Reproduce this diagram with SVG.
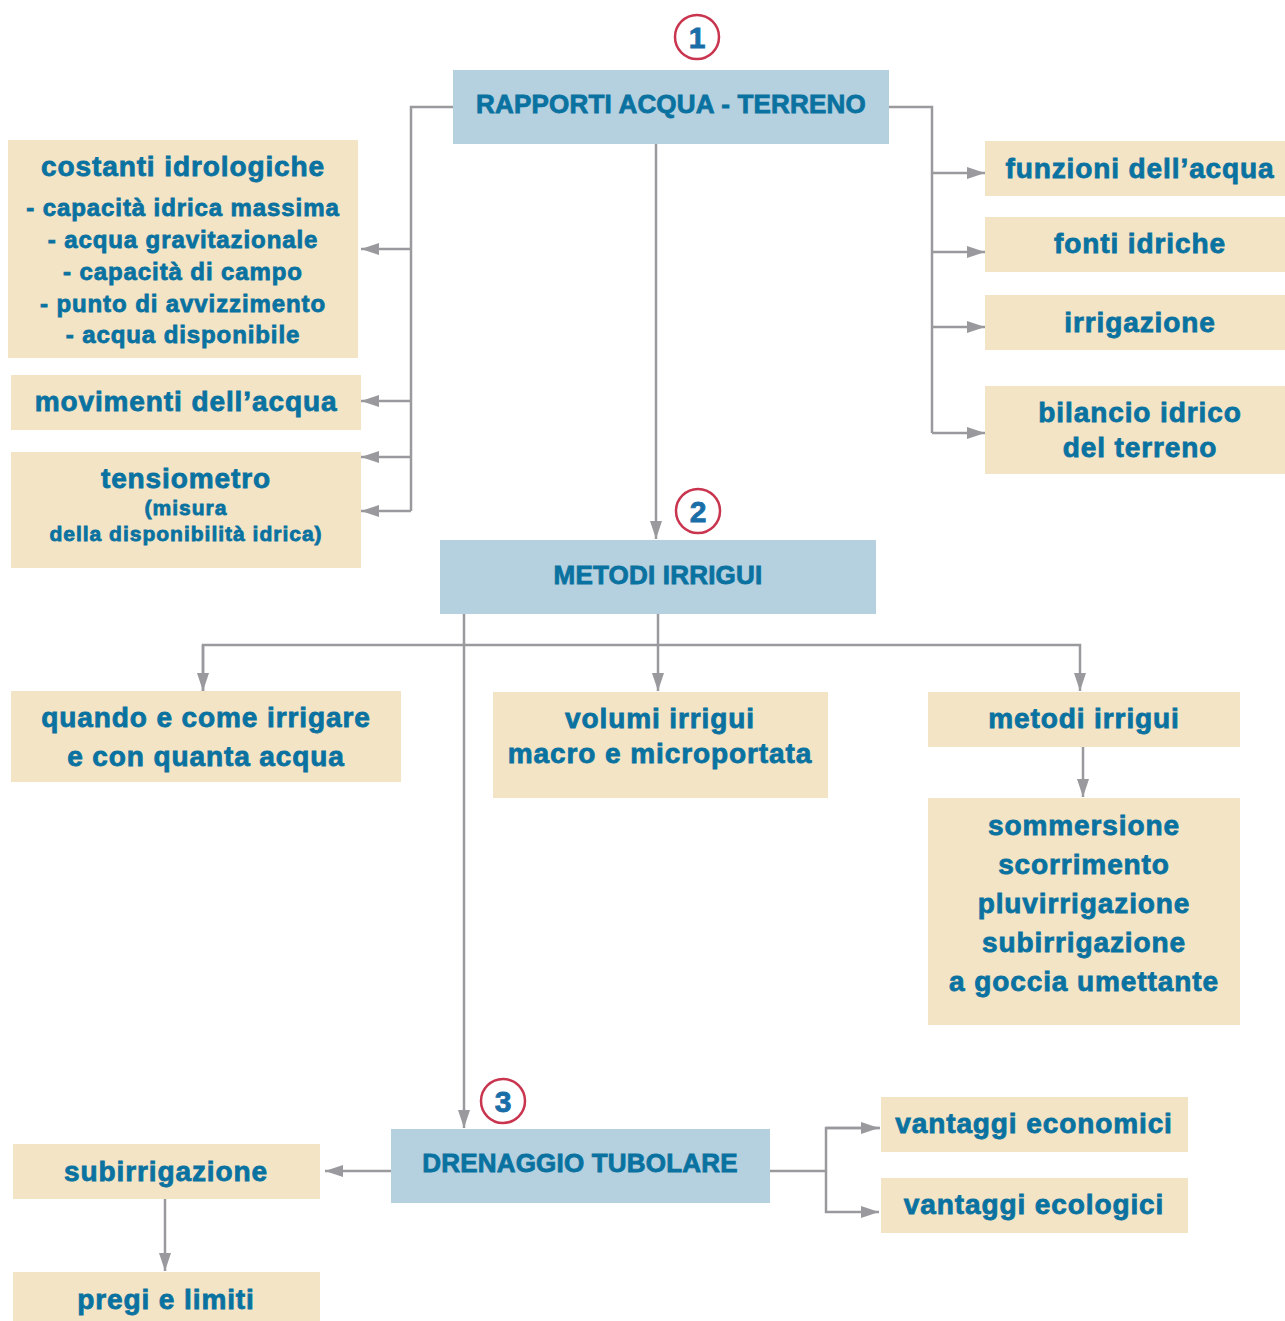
<svg xmlns="http://www.w3.org/2000/svg" width="1285" height="1321" viewBox="0 0 1285 1321">
<style>
.beige{fill:#f3e4c5}
.blue{fill:#b5d0de}
text{font-family:"Liberation Sans",Arial,sans-serif;font-weight:bold;fill:#0a72a0;stroke:#0a72a0;stroke-width:0.8;text-anchor:middle}
.t{font-size:28px;letter-spacing:0.9px}
.s{font-size:24px;letter-spacing:0.9px}
.x{font-size:21px;letter-spacing:1px}
.u{font-size:26px;letter-spacing:0.2px}
.num{font-size:30px;fill:#1a6ea8;stroke:#1a6ea8}
.circ{fill:#fff;stroke:#c9354f;stroke-width:2.5}
.ln{fill:none;stroke:#9a9a9e;stroke-width:2.5}
</style>
<defs>
<marker id="ah" viewBox="0 0 18 12" refX="18" refY="6" markerWidth="18" markerHeight="12" markerUnits="userSpaceOnUse" orient="auto">
<path d="M0,0 L18,6 L0,12 z" fill="#9a9a9e"/>
</marker>
</defs>
<g id="connectors">
<path class="ln" d="M453,107 H411 V511"/>
<path class="ln" d="M411,249 H361" marker-end="url(#ah)"/>
<path class="ln" d="M411,401 H361" marker-end="url(#ah)"/>
<path class="ln" d="M411,457 H361" marker-end="url(#ah)"/>
<path class="ln" d="M411,511 H361" marker-end="url(#ah)"/>
<path class="ln" d="M889,107 H932 V433"/>
<path class="ln" d="M932,173 H985" marker-end="url(#ah)"/>
<path class="ln" d="M932,252 H985" marker-end="url(#ah)"/>
<path class="ln" d="M932,327 H985" marker-end="url(#ah)"/>
<path class="ln" d="M932,433 H985" marker-end="url(#ah)"/>
<path class="ln" d="M656,144 V539" marker-end="url(#ah)"/>
<path class="ln" d="M658,614 V691" marker-end="url(#ah)"/>
<path class="ln" d="M203,691 V645 H1080 V691" marker-end="url(#ah)"/>
<path class="ln" d="M203,645 V691" marker-end="url(#ah)"/>
<path class="ln" d="M464,614 V1128" marker-end="url(#ah)"/>
<path class="ln" d="M1083,747 V797" marker-end="url(#ah)"/>
<path class="ln" d="M391,1171 H325" marker-end="url(#ah)"/>
<path class="ln" d="M165,1199 V1271" marker-end="url(#ah)"/>
<path class="ln" d="M770,1171 H826"/>
<path class="ln" d="M880,1128 H826 V1212 H879" marker-end="url(#ah)"/>
<path class="ln" d="M826,1128 H879" marker-end="url(#ah)"/>
</g>
<g id="n-rapporti"><rect class="blue" x="453" y="70" width="436" height="74"/><text class="u" x="671" y="113">RAPPORTI ACQUA - TERRENO</text></g>
<g id="c1"><circle class="circ" cx="697" cy="37" r="22"/><text class="num" x="697" y="48">1</text></g>
<g id="n-costanti"><rect class="beige" x="8" y="140" width="350" height="218"/>
<text class="t" x="183" y="176">costanti idrologiche</text>
<text class="s" x="183" y="216">- capacità idrica massima</text>
<text class="s" x="183" y="248">- acqua gravitazionale</text>
<text class="s" x="183" y="280">- capacità di campo</text>
<text class="s" x="183" y="312">- punto di avvizzimento</text>
<text class="s" x="183" y="343">- acqua disponibile</text></g>
<g id="n-movimenti"><rect class="beige" x="11" y="375" width="350" height="55"/><text class="t" x="186" y="411">movimenti dell’acqua</text></g>
<g id="n-tensiometro"><rect class="beige" x="11" y="452" width="350" height="116"/>
<text class="t" x="186" y="488">tensiometro</text>
<text class="x" x="186" y="515">(misura</text>
<text class="x" x="186" y="541">della disponibilità idrica)</text></g>
<g id="n-funzioni"><rect class="beige" x="985" y="141" width="300" height="55"/><text class="t" x="1140" y="178">funzioni dell’acqua</text></g>
<g id="n-fonti"><rect class="beige" x="985" y="217" width="300" height="55"/><text class="t" x="1140" y="253">fonti idriche</text></g>
<g id="n-irrigazione"><rect class="beige" x="985" y="295" width="300" height="55"/><text class="t" x="1140" y="332">irrigazione</text></g>
<g id="n-bilancio"><rect class="beige" x="985" y="386" width="300" height="88"/>
<text class="t" x="1140" y="422">bilancio idrico</text>
<text class="t" x="1140" y="457">del terreno</text></g>
<g id="n-metodi"><rect class="blue" x="440" y="540" width="436" height="74"/><text class="u" x="658" y="584">METODI IRRIGUI</text></g>
<g id="c2"><circle class="circ" cx="698" cy="511" r="22"/><text class="num" x="698" y="522">2</text></g>
<g id="n-quando"><rect class="beige" x="11" y="691" width="390" height="91"/>
<text class="t" x="206" y="727">quando e come irrigare</text>
<text class="t" x="206" y="766">e con quanta acqua</text></g>
<g id="n-volumi"><rect class="beige" x="493" y="692" width="335" height="106"/>
<text class="t" x="660" y="728">volumi irrigui</text>
<text class="t" x="660" y="763">macro e microportata</text></g>
<g id="n-metodi2"><rect class="beige" x="928" y="692" width="312" height="55"/><text class="t" x="1084" y="728">metodi irrigui</text></g>
<g id="n-sommersione"><rect class="beige" x="928" y="798" width="312" height="227"/>
<text class="t" x="1084" y="835">sommersione</text>
<text class="t" x="1084" y="874">scorrimento</text>
<text class="t" x="1084" y="913">pluvirrigazione</text>
<text class="t" x="1084" y="952">subirrigazione</text>
<text class="t" x="1084" y="991">a goccia umettante</text></g>
<g id="n-drenaggio"><rect class="blue" x="391" y="1129" width="379" height="74"/><text class="u" x="580" y="1172">DRENAGGIO TUBOLARE</text></g>
<g id="c3"><circle class="circ" cx="503" cy="1101" r="22"/><text class="num" x="503" y="1112">3</text></g>
<g id="n-subirrigazione"><rect class="beige" x="13" y="1144" width="307" height="55"/><text class="t" x="166" y="1181">subirrigazione</text></g>
<g id="n-pregi"><rect class="beige" x="13" y="1272" width="307" height="49"/><text class="t" x="166" y="1309">pregi e limiti</text></g>
<g id="n-economici"><rect class="beige" x="881" y="1097" width="307" height="55"/><text class="t" x="1034" y="1133">vantaggi economici</text></g>
<g id="n-ecologici"><rect class="beige" x="881" y="1178" width="307" height="55"/><text class="t" x="1034" y="1214">vantaggi ecologici</text></g>
</svg>
